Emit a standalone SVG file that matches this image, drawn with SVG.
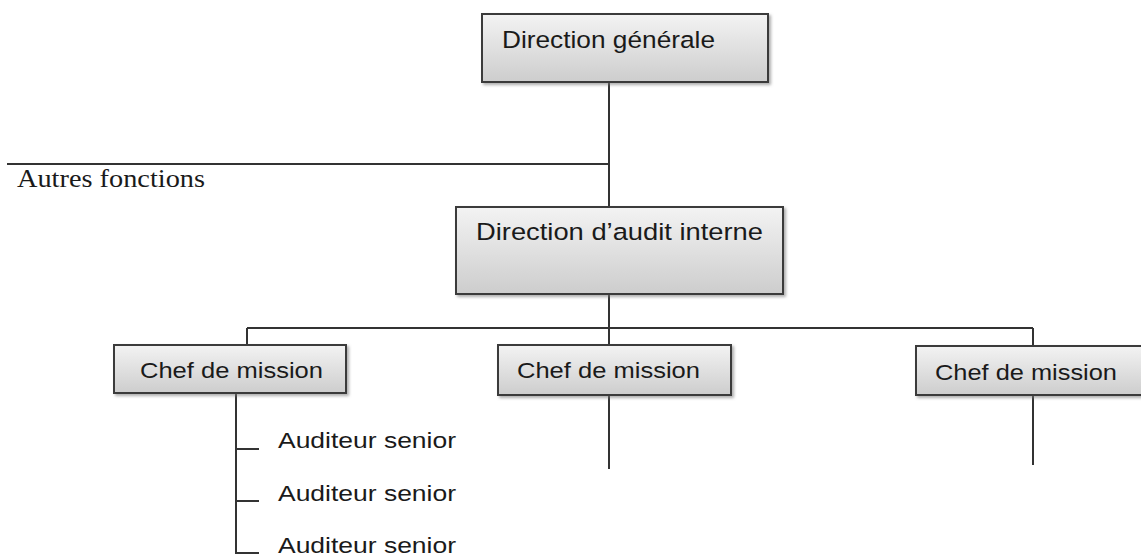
<svg xmlns="http://www.w3.org/2000/svg" width="1141" height="559" viewBox="0 0 1141 559">
  <defs>
    <linearGradient id="boxFill" x1="0" y1="0" x2="0" y2="1">
      <stop offset="0" stop-color="#f3f3f3"/>
      <stop offset="1" stop-color="#cdcdcd"/>
    </linearGradient>
    <filter id="shadow" x="-5%" y="-10%" width="115%" height="130%">
      <feDropShadow dx="2" dy="2" stdDeviation="1.5" flood-color="#777" flood-opacity="0.6"/>
    </filter>
    <style>
      .box { fill: url(#boxFill); stroke: #3a3a3a; stroke-width: 2; filter: url(#shadow); }
      .label { font-family: "Liberation Sans", Arial, sans-serif; fill: #1a1a1a; }
      .big { font-size: 24.5px; }
      .mid { font-size: 22px; }
      .small { font-size: 22px; }
      .serif { font-family: "Liberation Serif", "Times New Roman", serif; font-size: 26px; fill: #1a1a1a; }
      .link { stroke: #333; stroke-width: 2; fill: none; }
    </style>
  </defs>

  <!-- reporting lines -->
  <g id="connectors">
    <line class="link" x1="609" y1="82" x2="609" y2="207"/>
    <line class="link" x1="7" y1="164" x2="609" y2="164"/>
    <line class="link" x1="609" y1="294" x2="609" y2="345"/>
    <line class="link" x1="247" y1="328" x2="1033" y2="328"/>
    <line class="link" x1="247" y1="328" x2="247" y2="345"/>
    <line class="link" x1="1033" y1="328" x2="1033" y2="346"/>
    <line class="link" x1="609" y1="395" x2="609" y2="469"/>
    <line class="link" x1="1033" y1="395" x2="1033" y2="465"/>
    <path class="link" d="M236 393 V553 H259 M236 449 H259 M236 501 H259"/>
  </g>

  <g id="direction-generale">
    <rect class="box" x="482" y="14" width="286" height="68"/>
    <text class="label big" x="502" y="47.5" textLength="213" lengthAdjust="spacingAndGlyphs">Direction générale</text>
  </g>

  <g id="autres-fonctions">
    <text class="serif" x="17" y="187" textLength="188" lengthAdjust="spacingAndGlyphs">Autres fonctions</text>
  </g>

  <g id="direction-audit">
    <rect class="box" x="456" y="207" width="327" height="87"/>
    <text class="label big" x="476" y="240" textLength="287" lengthAdjust="spacingAndGlyphs">Direction d’audit interne</text>
  </g>

  <g id="chef-1">
    <rect class="box" x="114" y="345" width="232" height="48"/>
    <text class="label mid" x="140" y="378" textLength="183" lengthAdjust="spacingAndGlyphs">Chef de mission</text>
  </g>

  <g id="chef-2">
    <rect class="box" x="498" y="345" width="233" height="50"/>
    <text class="label mid" x="517" y="378" textLength="183" lengthAdjust="spacingAndGlyphs">Chef de mission</text>
  </g>

  <g id="chef-3">
    <rect class="box" x="916" y="346" width="236" height="49"/>
    <text class="label mid" x="935" y="380" textLength="182" lengthAdjust="spacingAndGlyphs">Chef de mission</text>
  </g>

  <g id="auditeur-1">
    <text class="label small" x="278" y="448" textLength="178" lengthAdjust="spacingAndGlyphs">Auditeur senior</text>
  </g>
  <g id="auditeur-2">
    <text class="label small" x="278" y="501" textLength="178" lengthAdjust="spacingAndGlyphs">Auditeur senior</text>
  </g>
  <g id="auditeur-3">
    <text class="label small" x="278" y="553" textLength="178" lengthAdjust="spacingAndGlyphs">Auditeur senior</text>
  </g>
</svg>
